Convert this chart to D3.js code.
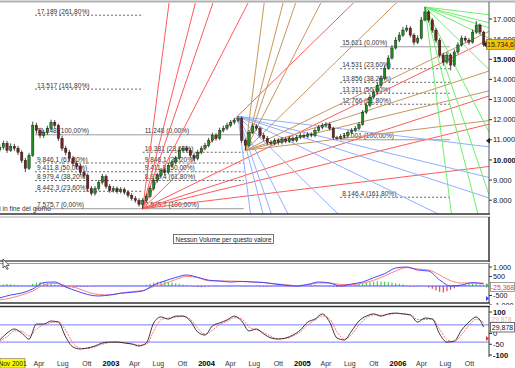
<!DOCTYPE html>
<html><head><meta charset="utf-8">
<script src="https://cdn.jsdelivr.net/npm/d3@7"></script>
<style>
body{margin:0;background:#fff;}
svg{display:block;font-family:"Liberation Sans",Arial,sans-serif;}
</style></head><body>
<svg id="c" width="515" height="368"></svg>
<script>
// ---------------- DATA ----------------
const candleStart = "2001-11-02";   // first candle (two-week candles)
const candleStepDays = 14;
const opens = [10500,10630,10830,10480,10680,10580,10380,9980,9580,10230,11720,11470,11220,11370,11570,11870,11720,11070,10580,10380,10080,9830,9680,9380,9230,8580,8340,8580,8880,9180,8680,8480,8580,8430,8530,8390,8240,8090,7990,7790,7990,8190,8580,8980,9230,9480,9380,9730,9880,10080,10480,10580,10480,10230,10080,10380,10580,10730,10970,11220,11070,11470,11570,11720,11870,11970,12070,10970,10730,11370,11670,11570,11220,11070,10870,10830,10970,10870,11020,10930,11070,10970,11120,11220,11170,11270,11220,11470,11620,11720,11770,11570,11100,11070,11170,11220,11370,11470,11570,11770,12370,12720,13120,13370,13710,14060,14560,15060,15560,15950,16200,16450,16550,16200,15850,16050,16950,17350,16950,16450,15950,15210,14860,15210,14710,15360,15710,16050,15950,15850,16350,16700,16350];
const closes = [10630,10830,10480,10680,10580,10380,9980,9580,10230,11720,11470,11220,11370,11570,11870,11720,11070,10580,10380,10080,9830,9680,9380,9230,8580,8340,8580,8880,9180,8680,8480,8580,8430,8530,8390,8240,8090,7990,7790,7990,8190,8580,8980,9230,9480,9380,9730,9880,10080,10480,10580,10480,10230,10080,10380,10580,10730,10970,11220,11070,11470,11570,11720,11870,11970,12070,10970,10730,11370,11670,11570,11220,11070,10870,10830,10970,10870,11020,10930,11070,10970,11120,11220,11170,11270,11220,11470,11620,11720,11770,11570,11100,11070,11170,11220,11370,11470,11570,11770,12370,12720,13120,13370,13710,14060,14560,15060,15560,15950,16200,16450,16550,16200,15850,16050,16950,17350,16950,16450,15950,15210,14860,15210,14710,15360,15710,16050,15950,15850,16350,16700,16350,15734.6];
const highs = [10780,10960,10950,10820,10800,10700,10480,10100,10350,11900,11850,11600,11500,11700,12000,11980,11800,11200,10700,10500,10200,9950,9800,9500,9330,8700,8700,9000,9300,9280,8800,8700,8680,8650,8630,8500,8350,8200,8100,8100,8300,8700,9100,9350,9600,9600,9850,10000,10200,10600,10700,10700,10580,10350,10500,10700,10850,11100,11350,11330,11600,11700,11850,11980,12080,12169,12150,11050,11500,11800,11780,11650,11330,11180,10980,11080,11080,11130,11120,11180,11170,11230,11330,11320,11380,11370,11580,11730,11830,11880,11860,11650,11200,11280,11330,11480,11580,11680,11880,12480,12850,13250,13500,13850,14200,14700,15200,15700,16100,16350,16600,16700,16650,16300,16200,17100,17597,17450,17050,16550,16050,15320,15350,15300,15480,15850,16180,16150,16060,16480,16900,16780,16420];
const lows = [10380,10520,10350,10400,10450,10250,9850,9400,9500,10150,11300,11080,11100,11250,11480,11600,10950,10450,10230,9950,9700,9550,9250,9080,8450,8230,8230,8480,8780,8560,8370,8380,8320,8330,8280,8130,7980,7880,7680,7575.7,7900,8100,8480,8870,9120,9250,9280,9620,9780,9980,10380,10370,10100,9950,9980,10280,10480,10630,10870,10950,10980,11370,11470,11620,11760,11870,10850,10476,10650,11280,11450,11100,10950,10750,10720,10730,10760,10770,10830,10840,10870,10880,11030,11070,11080,11120,11130,11380,11520,11620,11460,11001,11010,11020,11080,11130,11280,11380,11480,11700,12280,12620,13020,13280,13620,13980,14480,14980,15480,15850,16100,16350,16080,15700,15750,15980,16880,16830,16320,15820,15080,14680,14750,14450,14620,15250,15620,15830,15720,15780,16250,16230,15620];

// MACD (one value every 3 candles) and histogram (one per candle)
const macdLine   = [-631,-473,-368,-158,184,210,-53,-263,-447,-526,-473,-384,-331,-263,53,263,447,579,458,305,263,210,242,210,179,105,37,0,84,210,158,0,105,210,437,647,947,1000,842,789,316,0,53,179,105];
const macdSignal = [-736,-631,-473,-263,53,137,21,-105,-316,-447,-473,-368,-295,-237,-37,126,342,505,442,274,263,263,237,210,189,116,74,16,63,158,158,79,74,147,300,526,789,968,894,842,579,279,158,158,158];
const macdHist = [60,80,100,90,70,50,20,10,40,120,180,200,160,140,120,80,40,-40,-60,-80,-70,-50,-40,-30,-20,-10,-20,-10,10,20,15,10,20,10,30,20,15,10,20,10,60,120,180,220,240,260,200,180,150,120,80,50,20,-30,-50,-60,-40,-20,10,20,-10,10,20,30,20,10,-10,-20,10,15,10,-20,-30,-20,-10,5,10,-5,10,5,10,30,50,40,30,50,60,40,20,10,-20,-40,-50,-30,-10,10,40,60,100,140,160,200,220,250,240,220,200,180,150,120,80,30,-20,-40,-30,10,-10,-80,-150,-220,-300,-340,-280,-200,-120,-40,40,80,120,140,100,60,20];
// Stochastic-type oscillator (one value every 2 candles)
const oscK = [-30,2,21,2,-26,44,44,58,53,-16,-63,-72,-67,-58,-44,-40,-40,-44,-49,-58,-44,49,77,67,81,81,58,7,-7,35,49,63,81,58,12,21,-2,-21,-26,-21,-7,16,53,67,91,53,-21,-30,12,58,81,91,81,91,95,91,86,53,72,67,-2,-40,-35,16,53,77,30];
const oscD = [-35,-15,12,10,-12,20,42,50,55,15,-45,-68,-70,-62,-50,-42,-40,-43,-47,-54,-50,10,65,72,76,80,66,25,-3,15,42,56,74,68,30,17,5,-14,-24,-23,-12,8,40,62,82,68,8,-26,-5,40,72,87,85,88,93,92,88,65,65,68,20,-28,-38,-5,38,67,52];
const oscLevels = [40,-40];

// Gann fans: origin date, origin price, direction (+1 rising, -1 falling)
const fanDates  = ["2003-05-02","2004-04-30","2004-05-28","2006-04-14"];
const fanPrices = [7575.7,12169,10476,17597];
const fanDirs   = [1,-1,1,-1];
const gannRatios = [8,4,3,2,1,1/2,1/3,1/4,1/8];
const gannPointsPerDay = 12.7;

// Fibonacci level sets
const fibAFrom = "2002-03-17", fibATo = "2003-05-02";
const fibAValues = [17189,13517,11248,9846.1,9411.8,8979.4,8442.3,7575.7];
const fibALabels = ["17.189 (261,80%)","13.517 (161,80%)","11.248 (100,00%)","9.846,1 (61,80%)","9.411,8 (50,00%)","8.979,4 (38,20%)","8.442,3 (23,60%)","7.575,7 (0,00%)"];
const fibBFrom = "2003-05-02", fibBTo = "2004-05-22";
const fibBValues = [11248,10381,9846.1,9411.8,8979.4,7575.7];
const fibBLabels = ["11.248 (0,00%)","10.381 (23,60%)","9.846,1 (38,20%)","9.411,8 (50,00%)","8.979,4 (61,80%)","7.575,7 (100,00%)"];
const fibCFrom = "2005-05-25", fibCTo = "2006-07-18";
const fibCValues = [15621,14531,13856,13311,12766,11001,8146.4];
const fibCLabels = ["15.621 (0,00%)","14.531 (23,60%)","13.856 (38,20%)","13.311 (50,00%)","12.766 (61,80%)","11.001 (100,00%)","8.146,4 (161,80%)"];

const priceTicks = [17000,16000,15000,14000,13000,12000,11000,10000,9000,8000];
const priceTickLabels = ["17.000","16.000","15.000","14.000","13.000","12.000","11.000","10.000","9.000","8.000"];
const priceBoldTicks = [15000,10000];
const macdTicks = [1000,500,-500,-1000];
const macdTickLabels = ["1.000","500","-500","-1.000"];
const oscTicks = [100,0,-50,-100];
const oscTickLabels = ["100","0","-50","-100"];
const timeTicks = ["2002-04-01","2002-07-01","2002-10-01","2003-01-01","2003-04-01","2003-07-01","2003-10-01","2004-01-01","2004-04-01","2004-07-01","2004-10-01","2005-01-01","2005-04-01","2005-07-01","2005-10-01","2006-01-01","2006-04-01","2006-07-01","2006-10-01"];
const timeTickLabels = ["Apr","Lug","Ott","2003","Apr","Lug","Ott","2004","Apr","Lug","Ott","2005","Apr","Lug","Ott","2006","Apr","Lug","Ott"];
const lastPriceLabel = "15.734,6";
const lastMacdLabel = "-25,368";
const lastOscLabel = "29,878";
const cursorDateLabel = "Nov 2001";
const volumeMessage = "Nessun Volume per questo valore";
const footNote = "Dati in fine del giorno";

// ---------------- DRAW ----------------
const P = d3.utcParse("%Y-%m-%d");
const svg = d3.select("#c");
const W = 515, H = 368;
const plotR = 489;
const x = d3.scaleUtc().domain([P("2003-01-01"), P("2006-01-01")]).range([111, 398]);
const yP = d3.scaleLinear().domain([7314, 17795]).range([214, 3]);
const yM = d3.scaleLinear().domain([-1000, 1000]).range([305, 267]);
const yO = d3.scaleLinear().domain([-100, 100]).range([355, 312]);

const start = P(candleStart);
const dates = closes.map((_, i) => d3.utcDay.offset(start, i * candleStepDays));
const macdDates = macdLine.map((_, i) => dates[i * 3]);
const oscDates = oscK.map((_, i) => dates[Math.min(i * 2, dates.length - 1)]);

const defs = svg.append("defs");
defs.append("clipPath").attr("id", "clipMain").append("rect").attr("x", 0).attr("y", 3).attr("width", plotR).attr("height", 211);
defs.append("clipPath").attr("id", "clipMacd").append("rect").attr("x", 0).attr("y", 264).attr("width", plotR).attr("height", 39);
defs.append("clipPath").attr("id", "clipOsc").append("rect").attr("x", 0).attr("y", 307).attr("width", plotR).attr("height", 50);
defs.append("clipPath").attr("id", "clipMacdAxis").append("rect").attr("x", plotR).attr("y", 262).attr("width", 30).attr("height", 43);

// top border
svg.append("line").attr("x1", 0).attr("x2", W).attr("y1", 1.5).attr("y2", 1.5).attr("stroke", "#b0b0b0").attr("stroke-width", 2);

const main = svg.append("g").attr("clip-path", "url(#clipMain)");

// Fibonacci sets
function fibSet(from, to, values, labels) {
  const x1 = x(P(from)), x2 = x(P(to));
  values.forEach((v, i) => {
    const lab = labels[i];
    const solid = /\((0,00|100,00)%\)/.test(lab);
    main.append("line").attr("x1", x1).attr("x2", x2).attr("y1", yP(v)).attr("y2", yP(v))
      .attr("stroke", solid ? "#9a9a9a" : "#666").attr("stroke-width", 1)
      .attr("stroke-dasharray", solid ? null : "2,2");
    main.append("text").attr("x", x1 + 2).attr("y", yP(v) - 1.5).text(lab)
      .attr("font-size", 6.6).attr("fill", "#333");
  });
}
fibSet(fibAFrom, fibATo, fibAValues, fibALabels);
fibSet(fibBFrom, fibBTo, fibBValues, fibBLabels);
fibSet(fibCFrom, fibCTo, fibCValues, fibCLabels);

// Gann fans
const fanColors = ["#ff5a5a", "#8fb0ff", "#c8965e", "#6cf06c"];
fanDates.forEach((d, k) => {
  const d0 = P(d), p0 = fanPrices[k];
  gannRatios.forEach(r => {
    const days = 4000;
    const p1 = p0 + fanDirs[k] * r * gannPointsPerDay * days;
    main.append("line")
      .attr("x1", x(d0)).attr("y1", yP(p0))
      .attr("x2", x(d3.utcDay.offset(d0, days))).attr("y2", yP(p1))
      .attr("stroke", fanColors[k]).attr("stroke-width", 1);
  });
});

// candles
const cw = 2.4;
const cg = main.append("g");
dates.forEach((d, i) => {
  const cx = x(d);
  const up = closes[i] >= opens[i];
  cg.append("line").attr("x1", cx).attr("x2", cx).attr("y1", yP(highs[i])).attr("y2", yP(lows[i]))
    .attr("stroke", "#1a1a1a").attr("stroke-width", 0.8);
  const yt = yP(Math.max(opens[i], closes[i])), yb = yP(Math.min(opens[i], closes[i]));
  cg.append("rect").attr("x", cx - cw / 2).attr("y", yt).attr("width", cw).attr("height", Math.max(1, yb - yt))
    .attr("fill", up ? "#1c8c1c" : "#7a2020").attr("stroke", "#1a1a1a").attr("stroke-width", 0.4);
});

// footnote (cut at the left edge as in the original)
svg.append("text").attr("x", 51).attr("y", 211).attr("text-anchor", "end").text(footNote)
  .attr("font-size", 6.6).attr("fill", "#333");

// main borders
svg.append("line").attr("x1", 0).attr("x2", plotR + 1).attr("y1", 214).attr("y2", 214).attr("stroke", "#333").attr("stroke-width", 1.5);
svg.append("line").attr("x1", plotR).attr("x2", plotR).attr("y1", 2).attr("y2", 214).attr("stroke", "#555").attr("stroke-width", 1);

// price axis
priceTicks.forEach((t, i) => {
  svg.append("line").attr("x1", plotR).attr("x2", plotR + 3).attr("y1", yP(t)).attr("y2", yP(t)).attr("stroke", "#333");
  svg.append("text").attr("x", plotR + 4).attr("y", yP(t) + 2.6).text(priceTickLabels[i])
    .attr("font-size", 7.4).attr("fill", "#111").attr("font-weight", priceBoldTicks.includes(t) ? "bold" : null);
});
// last price box
const lp = closes[closes.length - 1];
svg.append("rect").attr("x", 486.5).attr("y", yP(lp) - 5).attr("width", 28).attr("height", 10)
  .attr("fill", "#f3c200").attr("stroke", "#8a6a00").attr("stroke-width", 0.6);
svg.append("path").attr("d", `M${483},${yP(lp)} l3.5,-3 l0,6 z`).attr("fill", "#222");
svg.append("text").attr("x", 500.5).attr("y", yP(lp) + 2.6).attr("text-anchor", "middle").text(lastPriceLabel)
  .attr("font-size", 6.9).attr("fill", "#222");
svg.append("path").attr("d", `M${plotR - 3},${yP(10950)} l4,-3 l0,6 z`).attr("fill", "#222");

// volume panel
svg.append("line").attr("x1", 0).attr("x2", plotR + 1).attr("y1", 217).attr("y2", 217).attr("stroke", "#aaa").attr("stroke-width", 1);
svg.append("line").attr("x1", plotR).attr("x2", plotR).attr("y1", 217).attr("y2", 262).attr("stroke", "#333").attr("stroke-width", 1.5);
svg.append("line").attr("x1", 0).attr("x2", plotR + 1).attr("y1", 261).attr("y2", 261).attr("stroke", "#555").attr("stroke-width", 1.5);
svg.append("line").attr("x1", 0).attr("x2", plotR + 1).attr("y1", 263.5).attr("y2", 263.5).attr("stroke", "#999").attr("stroke-width", 1);
svg.append("rect").attr("x", 173.5).attr("y", 234.5).attr("width", 100).attr("height", 9)
  .attr("fill", "#fff").attr("stroke", "#555").attr("stroke-width", 0.8);
svg.append("text").attr("x", 223.5).attr("y", 241.5).attr("text-anchor", "middle").text(volumeMessage)
  .attr("font-size", 6.4).attr("fill", "#222");
// mouse pointer
svg.append("path").attr("d", "M3,259 l0,9 l2,-2 l2,3.5 l1.2,-0.6 l-2,-3.4 l3,0 z")
  .attr("fill", "#fff").attr("stroke", "#222").attr("stroke-width", 0.7);

// MACD panel
const mg = svg.append("g").attr("clip-path", "url(#clipMacd)");
macdHist.forEach((v, i) => {
  mg.append("line").attr("x1", x(dates[i])).attr("x2", x(dates[i])).attr("y1", yM(0)).attr("y2", yM(v))
    .attr("stroke", v >= 0 ? "#46d246" : "#e04848").attr("stroke-width", 1.2);
});
mg.append("line").attr("x1", 0).attr("x2", plotR).attr("y1", yM(0)).attr("y2", yM(0)).attr("stroke", "#4a4aff").attr("stroke-width", 1);
const lineM = d3.line().x((d, i) => x(macdDates[i])).y(d => yM(d)).curve(d3.curveMonotoneX);
mg.append("path").attr("d", lineM(macdSignal)).attr("fill", "none").attr("stroke", "#ff8080").attr("stroke-width", 1);
mg.append("path").attr("d", lineM(macdLine)).attr("fill", "none").attr("stroke", "#4444ff").attr("stroke-width", 1);
svg.append("line").attr("x1", 0).attr("x2", plotR + 1).attr("y1", 303).attr("y2", 303).attr("stroke", "#333").attr("stroke-width", 1.5);
svg.append("line").attr("x1", plotR).attr("x2", plotR).attr("y1", 264).attr("y2", 303).attr("stroke", "#333").attr("stroke-width", 1);
const macdAxis = svg.append("g").attr("clip-path", "url(#clipMacdAxis)");
macdTicks.forEach((t, i) => {
  macdAxis.append("line").attr("x1", plotR).attr("x2", plotR + 3).attr("y1", yM(t)).attr("y2", yM(t)).attr("stroke", "#333");
  macdAxis.append("text").attr("x", plotR + 4).attr("y", yM(t) + 2.6).text(macdTickLabels[i]).attr("font-size", 7.2).attr("fill", "#111");
});
svg.append("rect").attr("x", 490.5).attr("y", 282.5).attr("width", 24).attr("height", 9).attr("fill", "#fff").attr("stroke", "#777").attr("stroke-width", 0.7);
svg.append("text").attr("x", 502.5).attr("y", 289.6).attr("text-anchor", "middle").text(lastMacdLabel).attr("font-size", 6.9).attr("fill", "#e04040");
svg.append("path").attr("d", `M${plotR - 3},283 l3,2.5 l-3,2.5 z`).attr("fill", "#3cc03c");
svg.append("path").attr("d", `M${plotR - 3},296 l3,2.5 l-3,2.5 z`).attr("fill", "#3a3aff");

// Oscillator panel
const og = svg.append("g").attr("clip-path", "url(#clipOsc)");
oscLevels.forEach(l => og.append("line").attr("x1", 0).attr("x2", plotR).attr("y1", yO(l)).attr("y2", yO(l)).attr("stroke", "#7a7aff").attr("stroke-width", 1));
const lineO = d3.line().x((d, i) => x(oscDates[i])).y(d => yO(d)).curve(d3.curveMonotoneX);
og.append("path").attr("d", lineO(oscD)).attr("fill", "none").attr("stroke", "#ff7070").attr("stroke-width", 1).attr("stroke-dasharray", "2,1");
og.append("path").attr("d", lineO(oscK)).attr("fill", "none").attr("stroke", "#222").attr("stroke-width", 0.9);
svg.append("line").attr("x1", 0).attr("x2", plotR + 1).attr("y1", 306.5).attr("y2", 306.5).attr("stroke", "#333").attr("stroke-width", 1.5);
svg.append("line").attr("x1", plotR).attr("x2", plotR).attr("y1", 306).attr("y2", 357).attr("stroke", "#333").attr("stroke-width", 1);
oscTicks.forEach((t, i) => {
  svg.append("line").attr("x1", plotR).attr("x2", plotR + 3).attr("y1", yO(t)).attr("y2", yO(t)).attr("stroke", "#333");
  svg.append("text").attr("x", plotR + 4).attr("y", yO(t) + 2.8).text(oscTickLabels[i]).attr("font-size", 7.6)
    .attr("font-weight", Math.abs(t) === 100 ? "bold" : null).attr("fill", "#111");
});
svg.append("text").attr("x", 491.5).attr("y", 321.5).text(lastOscLabel).attr("font-size", 6.6).attr("fill", "#f2b0b0");
svg.append("rect").attr("x", 490.5).attr("y", 322.5).attr("width", 24).attr("height", 9.5).attr("fill", "#fff").attr("stroke", "#333").attr("stroke-width", 0.7);
svg.append("text").attr("x", 502.5).attr("y", 330).attr("text-anchor", "middle").text(lastOscLabel).attr("font-size", 7).attr("fill", "#111");
svg.append("path").attr("d", `M${plotR - 3},336 l3,2.5 l-3,2.5 z`).attr("fill", "#e03030");

// time axis
timeTicks.forEach((t, i) => {
  const isYear = /^\d{4}$/.test(timeTickLabels[i]);
  svg.append("text").attr("x", x(P(t))).attr("y", 366).attr("text-anchor", "middle").text(timeTickLabels[i])
    .attr("font-size", isYear ? 7.6 : 7).attr("font-weight", isYear ? "bold" : null).attr("fill", isYear ? "#000" : "#333");
});
svg.append("rect").attr("x", 0).attr("y", 358.5).attr("width", 25).attr("height", 9.5).attr("fill", "#ffff00").attr("stroke", "#777").attr("stroke-width", 0.6);
svg.append("text").attr("x", 12.5).attr("y", 366).attr("text-anchor", "middle").text(cursorDateLabel).attr("font-size", 6.6).attr("fill", "#111");
</script>
</body></html>
